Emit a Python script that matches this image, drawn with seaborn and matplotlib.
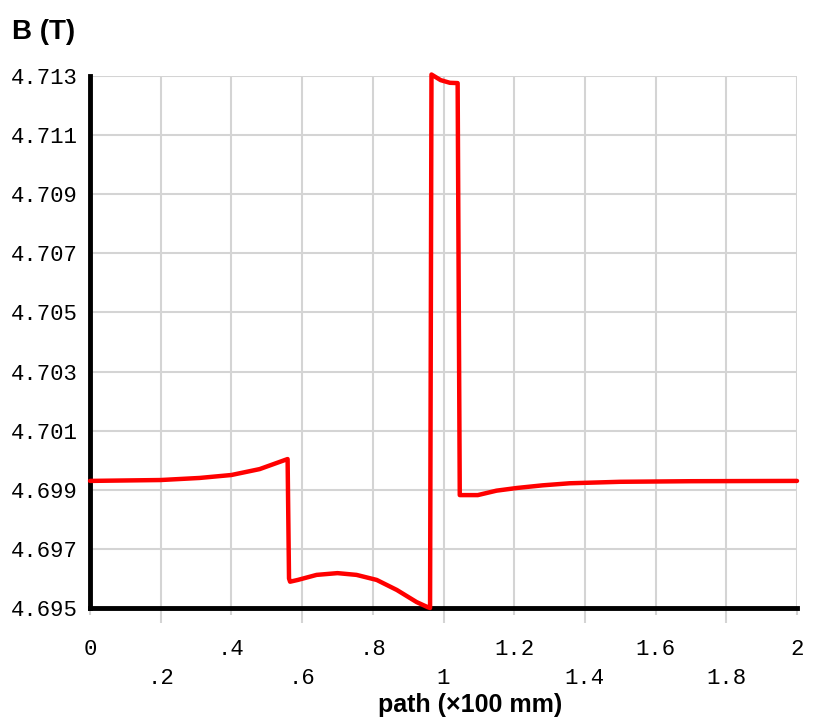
import matplotlib
matplotlib.use("Agg")
import matplotlib.pyplot as plt
import seaborn as sns
import pandas as pd
from matplotlib.ticker import FixedLocator, FixedFormatter

# path position (x100 mm) and flux density B (T)
path_x = [0.0, 0.2, 0.31, 0.4, 0.48, 0.559, 0.563, 0.566, 0.588, 0.641, 0.700,
          0.754, 0.811, 0.868, 0.924, 0.955, 0.962, 0.966, 0.992, 1.018, 1.040,
          1.046, 1.097, 1.15, 1.207, 1.28, 1.357, 1.5, 1.7, 2.0]
b_vals = [4.69930, 4.69933, 4.69940, 4.69950, 4.69970, 4.70004, 4.69600, 4.69589,
          4.69595, 4.69612, 4.69618, 4.69612, 4.69595, 4.69561, 4.69520, 4.69503,
          4.69500, 4.71305, 4.71286, 4.71277, 4.71276, 4.69882, 4.69882, 4.69897,
          4.69906, 4.69915, 4.69922, 4.69927, 4.69929, 4.69930]

y_ticks = [4.695, 4.697, 4.699, 4.701, 4.703, 4.705, 4.707, 4.709, 4.711, 4.713]
row1_ticks = [0, 0.4, 0.8, 1.2, 1.6, 2.0]
row1_labels = ["0", ".4", ".8", "1.2", "1.6", "2"]
row2_ticks = [0.2, 0.6, 1.0, 1.4, 1.8]
row2_labels = [".2", ".6", "1", "1.4", "1.8"]

df = pd.DataFrame({"path": path_x, "B": b_vals})

sns.set_theme(style="whitegrid")
plt.rcParams["font.family"] = ["Liberation Mono", "DejaVu Sans Mono"]
plt.rcParams["text.color"] = "black"

fig = plt.figure(figsize=(8.14, 7.22), dpi=100)
ax = fig.add_axes([90/814, 1-608/722, 707/814, 532/722])

sns.lineplot(data=df, x="path", y="B", ax=ax, color="#ff0000", linewidth=3.2,
             sort=False, estimator=None, clip_on=False, zorder=3)

ax.set_xlim(0, 2)
ax.set_ylim(4.695, 4.713)
ax.set_yticks(y_ticks)
ax.set_yticklabels([f"{v:.3f}" for v in y_ticks])

ax.xaxis.set_major_locator(FixedLocator(row1_ticks))
ax.xaxis.set_major_formatter(FixedFormatter(row1_labels))
ax.xaxis.set_minor_locator(FixedLocator(row2_ticks))
ax.xaxis.set_minor_formatter(FixedFormatter(row2_labels))

ax.grid(True, which="both", axis="x", color="#d4d4d4", linewidth=1.5)
ax.grid(True, which="major", axis="y", color="#d4d4d4", linewidth=1.5)

ax.tick_params(axis="y", length=0, pad=9, labelsize=16, labelcolor="black")
ax.tick_params(axis="x", which="major", bottom=True, length=5, width=1.5,
               color="#d4d4d4", labelcolor="black", pad=17, labelsize=16)
ax.tick_params(axis="x", which="minor", bottom=True, length=11, width=1.5,
               color="#d4d4d4", labelcolor="black", pad=32.5, labelsize=16)

for s in ["top", "right"]:
    ax.spines[s].set_visible(False)
for s in ["left", "bottom"]:
    ax.spines[s].set_color("black")
    ax.spines[s].set_linewidth(3.5)

ax.set_xlabel("")
ax.set_ylabel("")
fig.text(12/814, 1-32/722, "B (T)", fontsize=20, fontweight="bold", color="black",
         family="Liberation Sans", va="center", ha="left")
fig.text(470/814, 1-705/722, "path (\u00d7100 mm)", fontsize=18, fontweight="bold",
         color="black", family="Liberation Sans", va="center", ha="center")

fig.savefig("out.png", dpi=100, facecolor="white")
